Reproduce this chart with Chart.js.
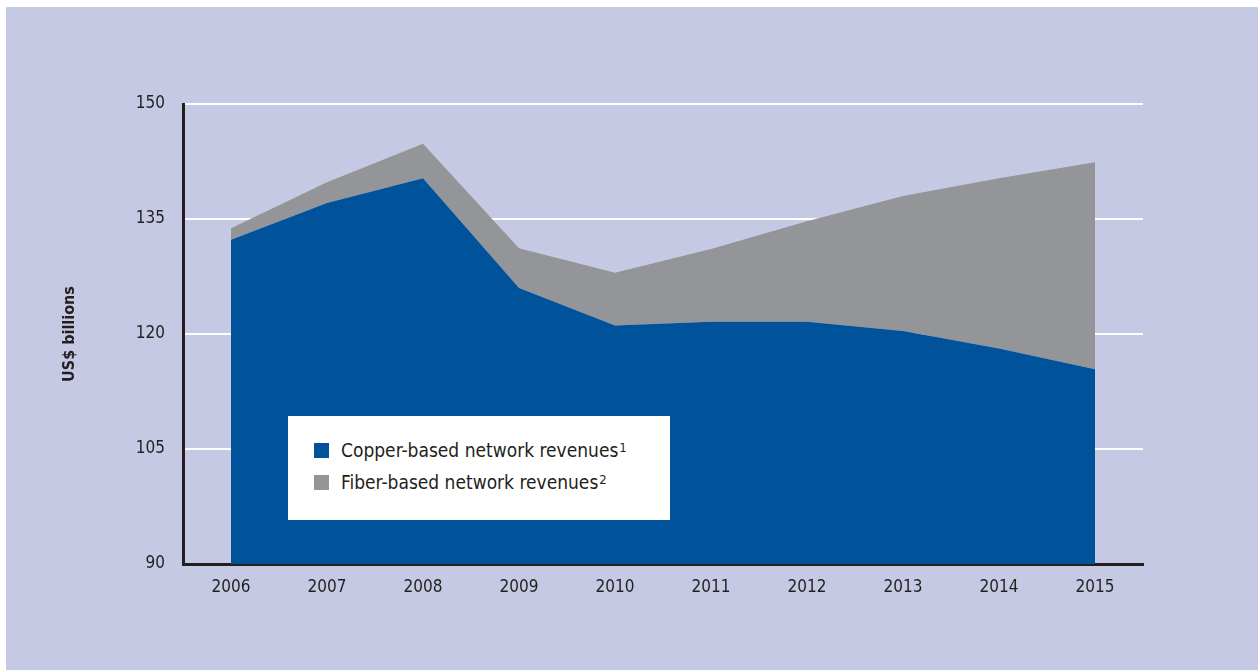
<!DOCTYPE html>
<html>
<head>
<meta charset="utf-8">
<script src="https://cdn.jsdelivr.net/npm/chart.js@4"></script>
<style>
    html, body { margin: 0; padding: 0; background: #ffffff; }
    #frame {
        position: absolute; left: 6px; top: 7px; width: 1252px; height: 663px;
        background: #c5c9e3;
    }
    #wrap { position: absolute; left: 0; top: 0; width: 1258px; height: 670px; }
    .legend-box {
        position: absolute; left: 288px; top: 416px; width: 382px; height: 104px;
        background: #ffffff;
        font-family: 'Liberation Sans Narrow', 'DejaVu Sans Condensed', sans-serif;
        font-size: 19px; color: #231f20;
    }
    .legend-row { position: absolute; left: 26px; height: 20px; line-height: 20px; white-space: nowrap; }
    .legend-row .sw { display: inline-block; width: 15px; height: 15px; vertical-align: -1px; margin-right: 12px; }
    .legend-row sup { font-size: 13px; vertical-align: 5px; line-height: 0; margin-left: 1px; }
</style>
</head>
<body>
<div id="frame"></div>
<div id="wrap">
    <canvas id="revChart" width="1258" height="670"></canvas>
    <div class="legend-box" id="legend"></div>
</div>
<script>
// Chart data (US$ billions)
const years = ['2006', '2007', '2008', '2009', '2010', '2011', '2012', '2013', '2014', '2015'];
const copperRevenues = [132.3, 137.1, 140.3, 126.0, 121.1, 121.6, 121.6, 120.4, 118.1, 115.4];
const fiberRevenues = [1.5, 2.7, 4.5, 5.2, 6.9, 9.5, 13.1, 17.6, 22.2, 27.0];
const yTicks = [90, 105, 120, 135, 150];

const seriesNames = ['Copper-based network revenues', 'Fiber-based network revenues'];
const seriesNotes = ['1', '2'];
const seriesColors = ['#00529b', '#939598'];

const FONT = "'Liberation Sans Narrow', 'DejaVu Sans Condensed', sans-serif";

function buildLegend() {
    const box = document.getElementById('legend');
    seriesNames.forEach((name, i) => {
        const row = document.createElement('div');
        row.className = 'legend-row';
        row.style.top = (24 + i * 32) + 'px';
        row.innerHTML = `<span class="sw" style="background:${seriesColors[i]}"></span>${name}<sup>${seriesNotes[i]}</sup>`;
        box.appendChild(row);
    });
}

function initChart() {
    const ctx = document.getElementById('revChart').getContext('2d');
    new Chart(ctx, {
        type: 'line',
        data: {
            labels: years,
            datasets: [
                {
                    label: seriesNames[0],
                    data: copperRevenues,
                    backgroundColor: seriesColors[0],
                    borderWidth: 0,
                    pointRadius: 0,
                    tension: 0,
                    fill: 'start'
                },
                {
                    label: seriesNames[1],
                    data: fiberRevenues,
                    backgroundColor: seriesColors[1],
                    borderWidth: 0,
                    pointRadius: 0,
                    tension: 0,
                    fill: '-1'
                }
            ]
        },
        options: {
            responsive: false,
            animation: false,
            layout: { padding: { left: 60, top: 104, right: 115, bottom: 0 } },
            plugins: {
                legend: { display: false },
                tooltip: { enabled: false },
                filler: { drawTime: 'beforeDatasetsDraw' }
            },
            scales: {
                x: {
                    offset: true,
                    grid: { display: false, drawTicks: false },
                    border: { display: true, color: '#231f20', width: 3 },
                    ticks: {
                        color: '#231f20',
                        font: { family: FONT, size: 17 },
                        padding: 13,
                        maxRotation: 0
                    },
                    afterFit: (scale) => { scale.height = 106; }
                },
                y: {
                    stacked: true,
                    min: 90,
                    max: 150,
                    afterBuildTicks: (scale) => { scale.ticks = yTicks.map(v => ({ value: v })); },
                    grid: { color: '#ffffff', lineWidth: 2, drawTicks: false },
                    border: { display: true, color: '#231f20', width: 3 },
                    ticks: {
                        color: '#231f20',
                        font: { family: FONT, size: 17 },
                        padding: 18
                    },
                    title: {
                        display: true,
                        text: 'US$ billions',
                        color: '#231f20',
                        font: { family: FONT, size: 16, weight: 'bold' },
                        padding: 0
                    },
                    afterFit: (scale) => { scale.width = 123; }
                }
            }
        }
    });
}

buildLegend();
initChart();
</script>
</body>
</html>
